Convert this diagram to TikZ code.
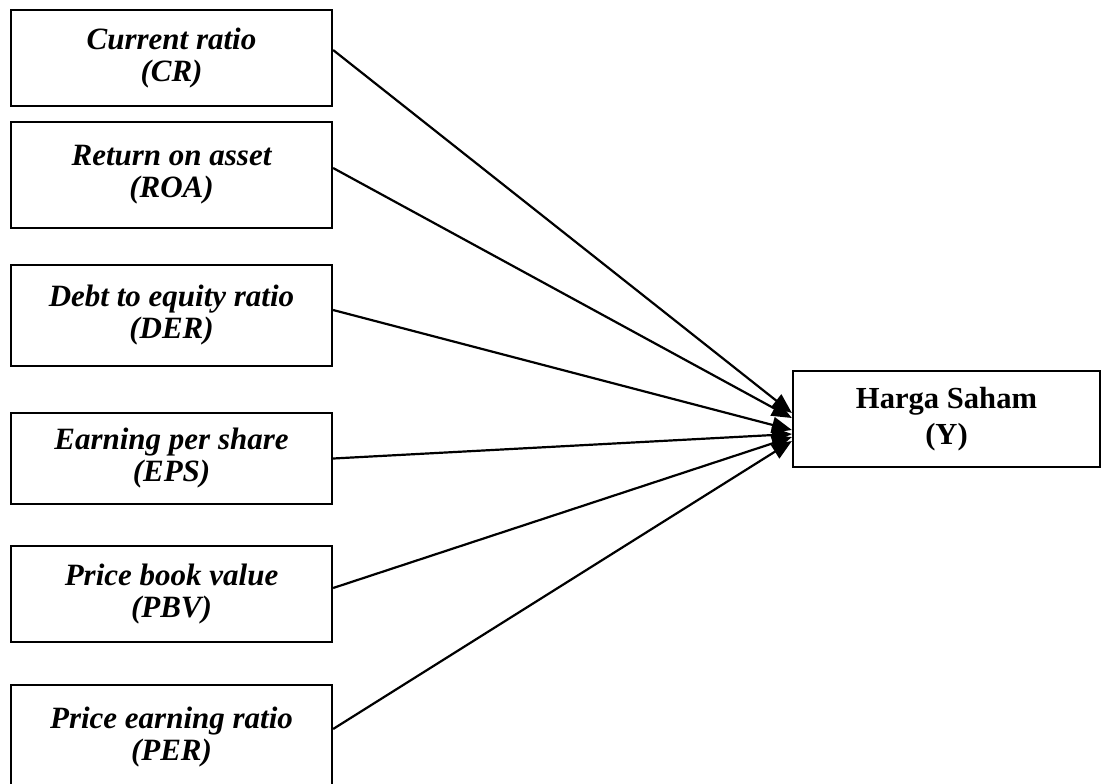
\documentclass[tikz,border=0pt]{standalone}
\usepackage{fontspec}
\setmainfont{Liberation Serif}
\usetikzlibrary{arrows.meta}

\tikzset{
  varbox/.style={draw, line width=1.1pt, minimum width=160.5pt, align=center,
    font=\fontsize{15.5}{16}\selectfont\bfseries\itshape},
  hsbox/.style={draw, line width=1.1pt, minimum width=153.5pt, minimum height=48pt, align=center,
    font=\fontsize{15.3}{18}\selectfont\bfseries},
  link/.style={line width=1.1pt, -{Triangle[length=10pt,width=8pt]}}
}

\begin{document}
\begin{tikzpicture}[x=0.5pt,y=-0.5pt]

\useasboundingbox (0,0) rectangle (1101,783);

\begin{scope}[shift={(0,0)}]
        % Variabel X
        \node[varbox, minimum height=48pt]   (cr)  at (171.5,58)    {Current ratio\\(CR)};
        \node[varbox, minimum height=53pt]   (roa) at (171.5,175)   {Return on asset\\(ROA)};
        \node[varbox, minimum height=50.5pt] (der) at (171.5,315.5) {Debt to equity ratio\\(DER)};
        \node[varbox, minimum height=45.5pt] (eps) at (171.5,458.5) {Earning per share\\(EPS)};
        \node[varbox, minimum height=48pt]   (pbv) at (171.5,594)   {Price book value\\(PBV)};
        \node[varbox, minimum height=52pt]   (per) at (171.5,737)   {Price earning ratio\\(PER)};

        % Variabel Y
        \node[hsbox] (hs) at (946.5,419) {Harga Saham\\(Y)};

        \draw[link] ([yshift=4pt]cr.east)    -- ([yshift=3pt]hs.west);
        \draw[link] ([yshift=3.5pt]roa.east) -- ([yshift=0.5pt]hs.west);
        \draw[link] ([yshift=2.75pt]der.east) -- ([yshift=-5.5pt]hs.west);
        \draw[link] (eps.east)               -- ([yshift=-7.5pt]hs.west);
        \draw[link] ([yshift=3pt]pbv.east)   -- ([yshift=-9pt]hs.west);
        \draw[link] ([yshift=4pt]per.east)   -- ([yshift=-11pt]hs.west);
\end{scope}

\end{tikzpicture}
\end{document}
